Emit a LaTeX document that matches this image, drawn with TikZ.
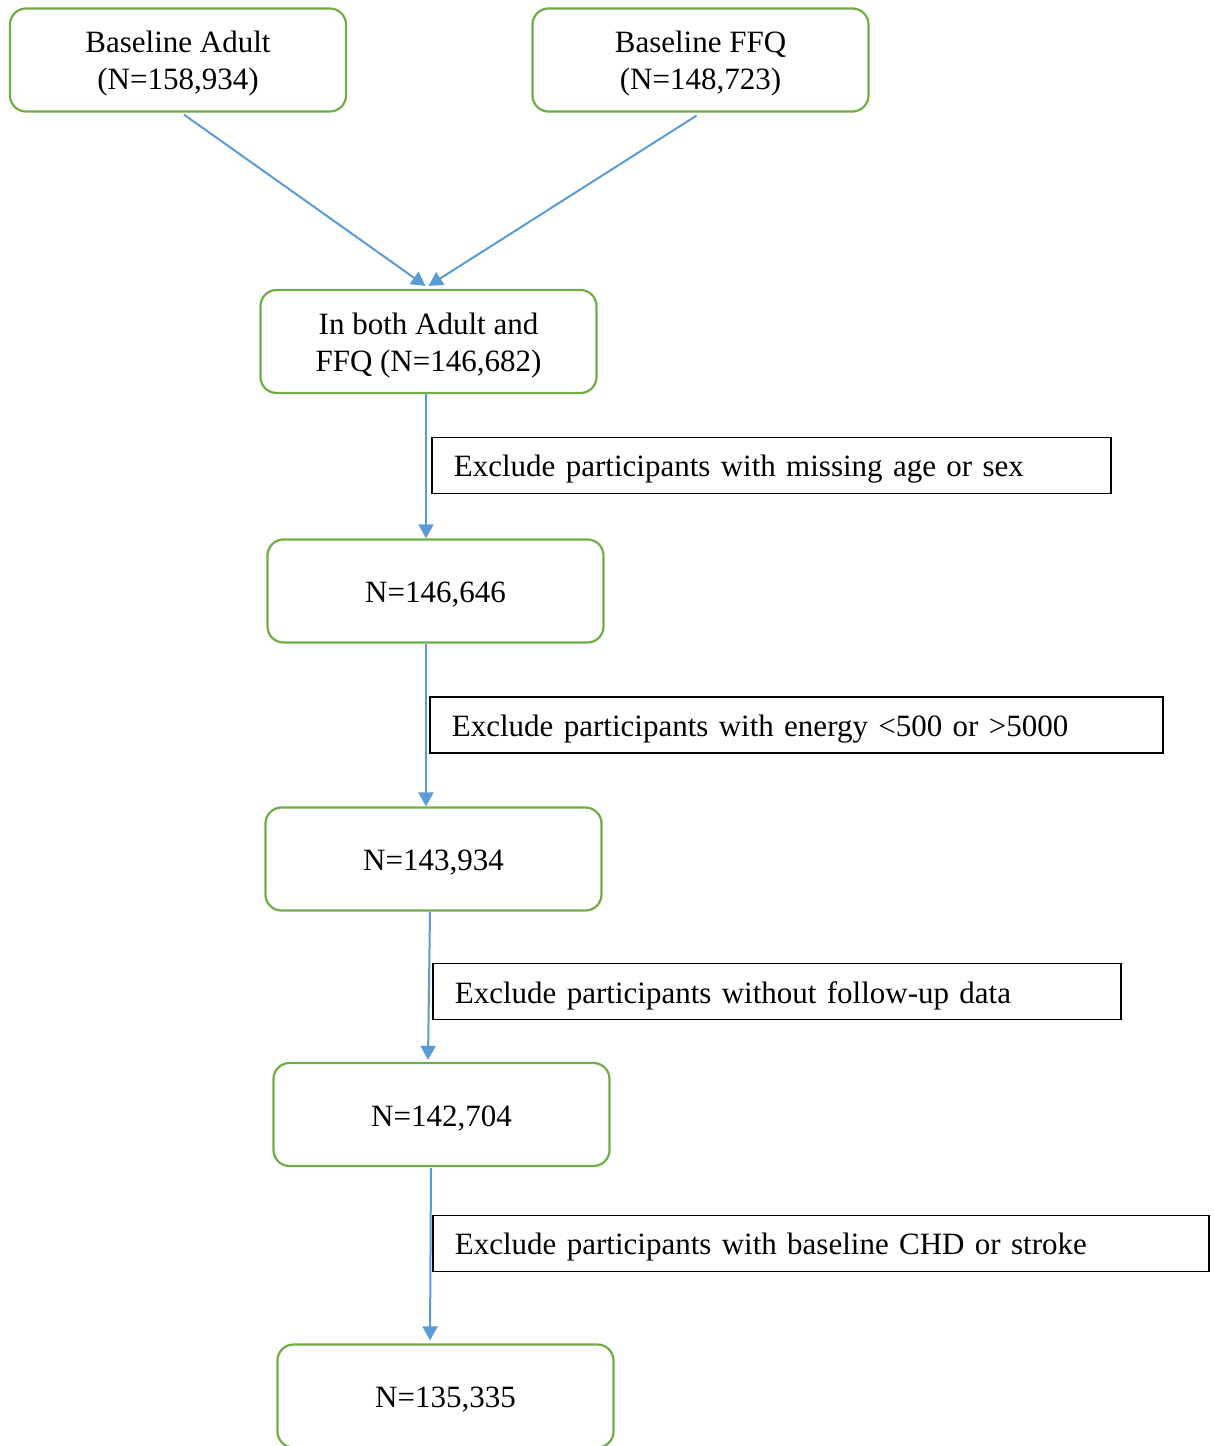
\documentclass[tikz,border=0pt]{standalone}
\usepackage{fontspec}
\setmainfont{Liberation Serif}
\usetikzlibrary{arrows.meta}
\definecolor{gboxc}{HTML}{70AD47}
\definecolor{arrc}{HTML}{5B9BD5}
\newcommand\dn[1]{\raisebox{-2pt}[\height][\depth]{#1}}
\newcommand\twol[2]{\dn{\begin{tabular}{@{}c@{}}#1\\#2\end{tabular}}}
\begin{document}
\begin{tikzpicture}[x=0.5pt,y=-0.5pt,
  gbox/.style={draw=gboxc, line width=1.1pt, rounded corners=8pt, minimum width=168pt, minimum height=51.5pt, inner sep=0pt, font=\fontsize{15.5}{18.5}\selectfont},
  xbox/.style={draw=black, line width=0.9pt, minimum height=28pt, anchor=west, align=left, inner xsep=11pt, inner ysep=0pt, font=\fontsize{15.5}{18.5}\selectfont},
  arr/.style={draw=arrc, line width=1pt, -{Triangle[width=7.5pt,length=7pt]}}]
\useasboundingbox (0,0) rectangle (1214,1446);
\begin{scope}
\clip (0,0) rectangle (1214,1446);
\node[gbox] (a) at (178,60) {\twol{Baseline Adult}{(N=158,934)}};
\node[gbox] (b) at (700.5,60) {\twol{Baseline FFQ}{(N=148,723)}};
\node[gbox] (c) at (428.5,341.5) {\twol{In both Adult and}{FFQ (N=146,682)}};
\node[gbox] (d) at (435.5,591) {\dn{N=146,646}};
\node[gbox] (e) at (433.5,859) {\dn{N=143,934}};
\node[gbox] (f) at (441.5,1114.5) {\dn{N=142,704}};
\node[gbox] (g) at (445.5,1396) {\dn{N=135,335}};

\node[xbox, text width=317.5pt] (x1) at (431,465.5) {\dn{Exclude participants with missing age or sex}};
\node[xbox, text width=344.5pt] (x2) at (429,725) {\dn{Exclude participants with energy <500 or >5000}};
\node[xbox, text width=322pt] (x3) at (432,991.5) {\dn{Exclude participants without follow-up data}};
\node[xbox, text width=366pt] (x4) at (432,1243.5) {\dn{Exclude participants with baseline CHD or stroke}};

\draw[arr] ([xshift=3pt,yshift=-1pt]a.south) -- ([xshift=-1.5pt,yshift=1.5pt]c.north);
\draw[arr] ([xshift=-2pt,yshift=-1.5pt]b.south) -- ([yshift=1.5pt]c.north);
\draw[arr] ([xshift=-1.25pt]c.south) -- ([xshift=-4.75pt]d.north);
\draw[arr] ([xshift=-4.75pt]d.south) -- ([xshift=-3.75pt]e.north);
\draw[arr] ([xshift=-1.75pt]e.south) -- ([xshift=-6.75pt,yshift=1pt]f.north);
\draw[arr] ([xshift=-5.25pt,yshift=-0.5pt]f.south) -- ([xshift=-7.75pt,yshift=1.5pt]g.north);
\end{scope}
\end{tikzpicture}
\end{document}
